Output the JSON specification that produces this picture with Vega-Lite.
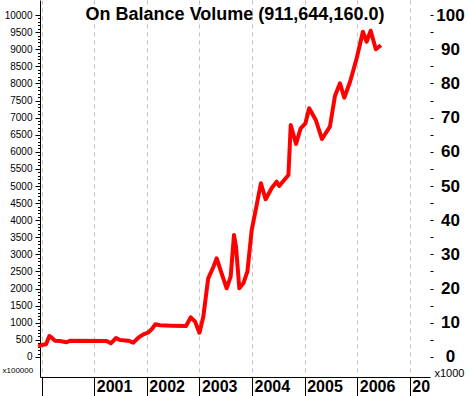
{
  "$schema": "https://vega.github.io/schema/vega-lite/v6.json",
  "width": 390,
  "height": 377,
  "autosize": {"type": "none"},
  "padding": {"left": 40, "top": 0, "right": 39, "bottom": 19},
  "background": "white",
  "config": {"view": {"stroke": null}, "font": "Liberation Sans"},
  "title": {"text": "On Balance Volume (911,644,160.0)", "font": "Liberation Sans", "fontSize": 18, "fontWeight": "bold", "color": "black", "anchor": "middle", "baseline": "alphabetic", "offset": 0, "dy": 38},
  "data": {"values": [
    {"date": "1999-12-09", "obv": 307},
    {"date": "2000-01-02", "obv": 351},
    {"date": "2000-02-01", "obv": 371},
    {"date": "2000-02-24", "obv": 614},
    {"date": "2000-03-10", "obv": 570},
    {"date": "2000-04-03", "obv": 477},
    {"date": "2000-05-07", "obv": 468},
    {"date": "2000-06-23", "obv": 430},
    {"date": "2000-07-16", "obv": 477},
    {"date": "2001-03-27", "obv": 468},
    {"date": "2001-04-26", "obv": 401},
    {"date": "2001-06-01", "obv": 556},
    {"date": "2001-06-28", "obv": 497},
    {"date": "2001-08-25", "obv": 477},
    {"date": "2001-09-29", "obv": 418},
    {"date": "2001-11-03", "obv": 564},
    {"date": "2001-12-08", "obv": 664},
    {"date": "2002-01-12", "obv": 722},
    {"date": "2002-02-05", "obv": 819},
    {"date": "2002-02-28", "obv": 956},
    {"date": "2002-04-02", "obv": 927},
    {"date": "2002-06-22", "obv": 915},
    {"date": "2002-09-30", "obv": 906},
    {"date": "2002-11-02", "obv": 1161},
    {"date": "2002-12-02", "obv": 1032},
    {"date": "2003-01-01", "obv": 711},
    {"date": "2003-01-28", "obv": 1178},
    {"date": "2003-03-03", "obv": 2301},
    {"date": "2003-04-07", "obv": 2623},
    {"date": "2003-05-01", "obv": 2886},
    {"date": "2003-06-04", "obv": 2447},
    {"date": "2003-07-09", "obv": 2009},
    {"date": "2003-08-06", "obv": 2348},
    {"date": "2003-08-29", "obv": 3567},
    {"date": "2003-09-12", "obv": 3225},
    {"date": "2003-10-05", "obv": 2009},
    {"date": "2003-11-02", "obv": 2155},
    {"date": "2003-11-30", "obv": 2494},
    {"date": "2003-12-30", "obv": 3713},
    {"date": "2004-01-22", "obv": 4202},
    {"date": "2004-03-03", "obv": 5079},
    {"date": "2004-04-05", "obv": 4611},
    {"date": "2004-05-16", "obv": 4933},
    {"date": "2004-06-20", "obv": 5126},
    {"date": "2004-07-08", "obv": 5000},
    {"date": "2004-09-10", "obv": 5322},
    {"date": "2004-09-26", "obv": 6784},
    {"date": "2004-11-02", "obv": 6228},
    {"date": "2004-12-04", "obv": 6687},
    {"date": "2005-01-06", "obv": 6833},
    {"date": "2005-02-01", "obv": 7272},
    {"date": "2005-03-19", "obv": 6930},
    {"date": "2005-05-01", "obv": 6374},
    {"date": "2005-06-25", "obv": 6734},
    {"date": "2005-07-30", "obv": 7632},
    {"date": "2005-09-03", "obv": 8003},
    {"date": "2005-10-03", "obv": 7582},
    {"date": "2005-11-12", "obv": 8050},
    {"date": "2005-12-28", "obv": 8734},
    {"date": "2006-02-09", "obv": 9512},
    {"date": "2006-03-07", "obv": 9219},
    {"date": "2006-04-04", "obv": 9541},
    {"date": "2006-05-10", "obv": 8997},
    {"date": "2006-06-14", "obv": 9116}
  ]},
  "encoding": {
    "x": {
      "field": "date",
      "type": "temporal",
      "scale": {"type": "utc", "domain": [{"year": 1999, "month": 12, "date": 21, "utc": true}, {"year": 2007, "month": 5, "date": 21, "utc": true}]},
      "axis": {
        "values": [
          {"year": 2000, "month": 1, "date": 1, "utc": true},
          {"year": 2001, "month": 1, "date": 1, "utc": true},
          {"year": 2002, "month": 1, "date": 1, "utc": true},
          {"year": 2003, "month": 1, "date": 1, "utc": true},
          {"year": 2004, "month": 1, "date": 1, "utc": true},
          {"year": 2005, "month": 1, "date": 1, "utc": true},
          {"year": 2006, "month": 1, "date": 1, "utc": true},
          {"year": 2007, "month": 1, "date": 1, "utc": true}
        ],
        "grid": true, "gridColor": "#c0c0c0", "gridDash": [4, 4], "gridWidth": 1,
        "domain": true, "domainColor": "black", "domainWidth": 1,
        "ticks": true, "tickSize": 20, "tickColor": "black", "tickWidth": 1,
        "labelExpr": "utcyear(datum.value) == 2000 ? '' : (utcyear(datum.value) == 2007 ? '20' : '' + utcyear(datum.value))",
        "labelAlign": "left", "labelBaseline": "alphabetic", "labelOffset": 2, "labelPadding": -6,
        "labelFont": "Liberation Sans", "labelFontSize": 16, "labelFontWeight": "bold", "labelColor": "black",
        "labelOverlap": false, "labelFlush": false, "title": null
      }
    }
  },
  "layer": [
    {
      "mark": {"type": "line", "color": "#ff0000", "strokeWidth": 4, "strokeJoin": "round", "strokeCap": "butt"},
      "encoding": {
        "y": {
          "field": "obv",
          "type": "quantitative",
          "scale": {"domain": [-585, 10439], "nice": false, "zero": false},
          "axis": {
            "orient": "left",
            "values": [0,100,200,300,400,500,600,700,800,900,1000,1100,1200,1300,1400,1500,1600,1700,1800,1900,2000,2100,2200,2300,2400,2500,2600,2700,2800,2900,3000,3100,3200,3300,3400,3500,3600,3700,3800,3900,4000,4100,4200,4300,4400,4500,4600,4700,4800,4900,5000,5100,5200,5300,5400,5500,5600,5700,5800,5900,6000,6100,6200,6300,6400,6500,6600,6700,6800,6900,7000,7100,7200,7300,7400,7500,7600,7700,7800,7900,8000,8100,8200,8300,8400,8500,8600,8700,8800,8900,9000,9100,9200,9300,9400,9500,9600,9700,9800,9900,10000],
            "labelExpr": "datum.value % 500 == 0 ? '' + datum.value : ''",
            "tickSize": {"condition": {"test": "datum.value % 500 == 0", "value": 5}, "value": 2.5},
            "tickColor": "black", "domainColor": "black", "grid": false,
            "labelFont": "Liberation Sans", "labelFontSize": 10, "labelColor": "black", "labelPadding": 3,
            "labelOverlap": false, "labelFlush": false,
            "title": "x100000", "titleAngle": 0, "titleX": -38, "titleY": 372, "titleAlign": "left", "titleBaseline": "alphabetic",
            "titleFont": "Liberation Sans", "titleFontSize": 8, "titleFontWeight": "normal", "titleColor": "black"
          }
        }
      }
    },
    {
      "mark": {"type": "line", "opacity": 0},
      "encoding": {
        "y": {
          "field": "obv",
          "type": "quantitative",
          "axis": {
            "orient": "right",
            "values": [0,500,1000,1500,2000,2500,3000,3500,4000,4500,5000,5500,6000,6500,7000,7500,8000,8500,9000,9500,10000],
            "labelExpr": "datum.value % 1000 == 0 ? '' + (datum.value / 100) : ''",
            "domain": false, "tickSize": 3, "tickColor": "black", "grid": false,
            "labelFont": "Liberation Sans", "labelFontSize": 17, "labelFontWeight": "bold", "labelColor": "black",
            "labelAlign": "center", "labelPadding": 17, "labelOverlap": false, "labelFlush": false,
            "title": "x1000", "titleAngle": 0, "titleX": 4, "titleY": 376, "titleAlign": "left", "titleBaseline": "alphabetic",
            "titleFont": "Liberation Sans", "titleFontSize": 11, "titleFontWeight": "normal", "titleColor": "black"
          }
        }
      }
    }
  ],
  "resolve": {"axis": {"y": "independent"}}
}
